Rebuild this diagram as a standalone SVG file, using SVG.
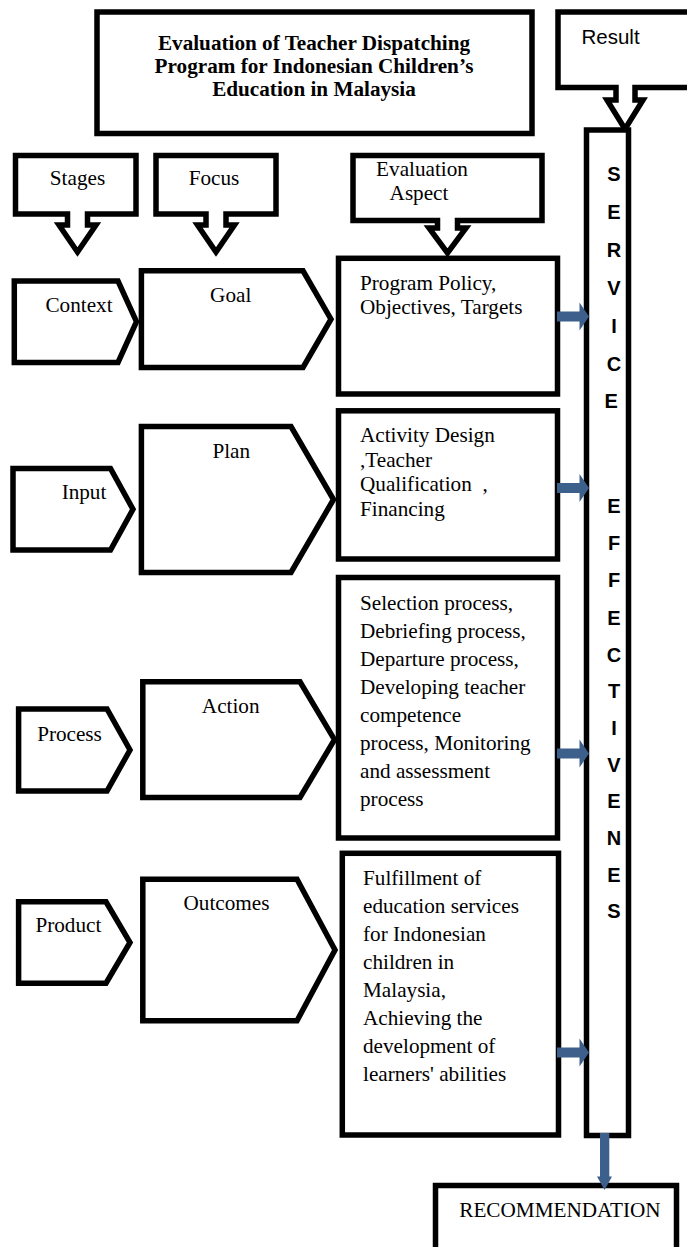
<svg xmlns="http://www.w3.org/2000/svg" width="687" height="1247" viewBox="0 0 687 1247">
<style>
.s{fill:#fff;stroke:#000;stroke-width:5.5;stroke-linejoin:miter;stroke-miterlimit:10}
.t{font-family:"Liberation Serif","Times New Roman",serif;font-size:21.2px;fill:#000}
.tb{font-weight:bold}
.m{text-anchor:middle}
.a{font-family:"Liberation Sans",Arial,sans-serif;font-size:20.5px;fill:#000}
.ab{font-family:"Liberation Sans",Arial,sans-serif;font-size:20px;font-weight:bold;text-anchor:middle;fill:#000}
.c{fill:#3c5f8c}
</style>
<rect width="687" height="1247" fill="#fff"/>

<g id="title">
<rect class="s" x="97" y="12" width="435" height="121.5"/>
<text class="t tb m"><tspan x="314" y="50">Evaluation of Teacher Dispatching</tspan><tspan x="314" y="73">Program for Indonesian Children’s</tspan><tspan x="314" y="96">Education in Malaysia</tspan></text>
</g>

<g id="result">
<path class="s" d="M558,12 H692 V87.5 H635 V100 H643 L625,129 L607,100 H616 V87.5 H558 Z"/>
<text class="a" x="581.5" y="44">Result</text>
</g>

<g id="stages">
<path class="s" d="M15.5,155.5 H136 V214 H87.5 V225 H96 L77.5,252 L59,225 H67.5 V214 H15.5 Z"/>
<text class="t m" x="77.5" y="185">Stages</text>
</g>

<g id="focus">
<path class="s" d="M156,155.5 H276 V214 H226 V225 H234.5 L216,252 L197.5,225 H206 V214 H156 Z"/>
<text class="t m" x="214" y="185">Focus</text>
</g>

<g id="evaluation-aspect">
<path class="s" d="M353,155.5 H542 V220.5 H457.5 V228 H466 L447.5,253 L429,228 H437.5 V220.5 H353 Z"/>
<text class="t m"><tspan x="422" y="176">Evaluation</tspan><tspan x="419" y="200">Aspect</tspan></text>
</g>

<g id="context">
<path class="s" d="M14.3,281 H118 L136.5,321.7 L118,362.5 H14.3 Z"/>
<text class="t m" x="79" y="311.7">Context</text>
</g>
<g id="goal">
<path class="s" d="M141.4,270.8 H303 L331,319.2 L303,367.5 H141.4 Z"/>
<text class="t m" x="230.7" y="301.7">Goal</text>
</g>
<g id="aspect-context">
<rect class="s" x="338.5" y="258.3" width="219" height="135.7"/>
<text class="t"><tspan x="360" y="290">Program Policy,</tspan><tspan x="360" y="313.5">Objectives, Targets</tspan></text>
</g>

<g id="input">
<path class="s" d="M13,468.5 H110.5 L133,509.3 L110.5,550 H13 Z"/>
<text class="t m" x="84" y="499">Input</text>
</g>
<g id="plan">
<path class="s" d="M141.4,426.5 H291 L333.5,499.5 L291,572.5 H141.4 Z"/>
<text class="t m" x="231.3" y="458.3">Plan</text>
</g>
<g id="aspect-input">
<rect class="s" x="338.5" y="410.8" width="219" height="148.2"/>
<text class="t" xml:space="preserve"><tspan x="360" y="442">Activity Design</tspan><tspan x="360" y="466.5">,Teacher</tspan><tspan x="360" y="491">Qualification  ,</tspan><tspan x="360" y="515.5">Financing</tspan></text>
</g>

<g id="process">
<path class="s" d="M18.6,709 H107 L130,750 L107,791 H18.6 Z"/>
<text class="t m" x="69.5" y="740.7">Process</text>
</g>
<g id="action">
<path class="s" d="M142.8,681.8 H300 L334.5,739.7 L300,797.5 H142.8 Z"/>
<text class="t m" x="230.7" y="713.3">Action</text>
</g>
<g id="aspect-process">
<rect class="s" x="338.5" y="577.5" width="219" height="260.5"/>
<text class="t"><tspan x="360" y="609.5">Selection process,</tspan><tspan x="360" y="637.5">Debriefing process,</tspan><tspan x="360" y="665.5">Departure process,</tspan><tspan x="360" y="693.5">Developing teacher</tspan><tspan x="360" y="721.5">competence</tspan><tspan x="360" y="749.5">process, Monitoring</tspan><tspan x="360" y="777.5">and assessment</tspan><tspan x="360" y="805.5">process</tspan></text>
</g>

<g id="product">
<path class="s" d="M18.6,901.8 H106 L130,942.5 L106,983.2 H18.6 Z"/>
<text class="t m" x="68.4" y="931.7">Product</text>
</g>
<g id="outcomes">
<path class="s" d="M142.8,879.2 H297 L335,950 L297,1020.8 H142.8 Z"/>
<text class="t m" x="226.5" y="910">Outcomes</text>
</g>
<g id="aspect-product">
<rect class="s" x="342.3" y="853.3" width="216.2" height="281.7"/>
<text class="t"><tspan x="363" y="885">Fulfillment of</tspan><tspan x="363" y="913">education services</tspan><tspan x="363" y="941">for Indonesian</tspan><tspan x="363" y="969">children in</tspan><tspan x="363" y="997">Malaysia,</tspan><tspan x="363" y="1025">Achieving the</tspan><tspan x="363" y="1053">development of</tspan><tspan x="363" y="1081">learners' abilities</tspan></text>
</g>

<g id="service-effectiveness">
<rect class="s" x="586.5" y="130" width="42" height="1005.5"/>
<text class="ab">
<tspan x="614" y="181">S</tspan><tspan x="614" y="219">E</tspan><tspan x="614" y="257">R</tspan><tspan x="614" y="295">V</tspan><tspan x="614" y="333">I</tspan><tspan x="614" y="371">C</tspan><tspan x="614" y="408">E</tspan>
<tspan x="614" y="513">E</tspan><tspan x="614" y="550">F</tspan><tspan x="614" y="587">F</tspan><tspan x="614" y="625">E</tspan><tspan x="614" y="662">C</tspan><tspan x="614" y="698">T</tspan><tspan x="614" y="735">I</tspan><tspan x="614" y="772">V</tspan><tspan x="614" y="808">E</tspan><tspan x="614" y="845">N</tspan><tspan x="614" y="882">E</tspan><tspan x="614" y="918">S</tspan>
</text>
</g>

<g id="recommendation">
<rect class="s" x="435.5" y="1185.5" width="241" height="80"/>
<text class="t" x="459.3" y="1216.7">RECOMMENDATION</text>
</g>

<g id="connectors">
<path class="c" d="M557,311.5 H579.5 V302.5 L589,316.5 L579.5,330.5 V321.5 H557 Z"/>
<path class="c" d="M557,483 H579.5 V474 L589,488 L579.5,502 V493 H557 Z"/>
<path class="c" d="M557,748.5 H579.5 V739.5 L589,753.5 L579.5,767.5 V758.5 H557 Z"/>
<path class="c" d="M557,1047.5 H579.5 V1038.5 L589,1052.5 L579.5,1066.5 V1057.5 H557 Z"/>
<path class="c" d="M600,1133 H609.3 V1176.5 H612 L604.6,1190 L597,1176.5 H600 Z"/>
</g>
</svg>
